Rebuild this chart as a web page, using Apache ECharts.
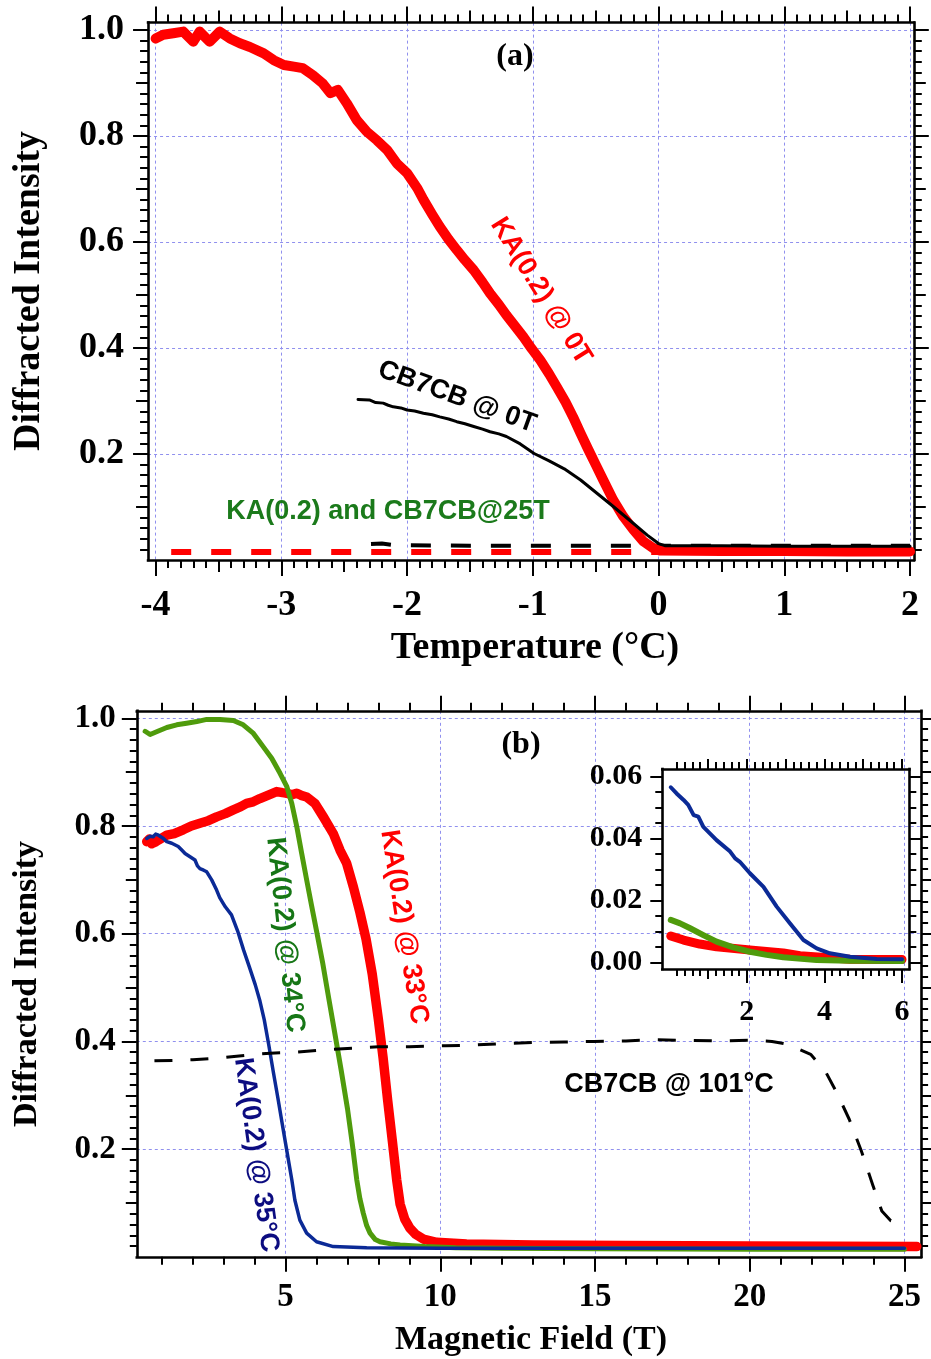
<!DOCTYPE html>
<html><head><meta charset="utf-8">
<script src="https://cdn.jsdelivr.net/npm/echarts@6/dist/echarts.min.js"></script>
<style>html,body{margin:0;padding:0;background:#fff}#c{width:931px;height:1359px}</style>
</head><body><div id="c"></div>
<script>
// ---------- Panel (a): Diffracted intensity vs temperature ----------
const kaZeroT = [[-4.00,0.984],[-3.94,0.991],[-3.86,0.994],[-3.78,0.997],[-3.70,0.978],[-3.65,0.997],[-3.57,0.978],[-3.49,0.997],[-3.41,0.984],[-3.33,0.975],[-3.25,0.968],[-3.14,0.956],[-3.06,0.943],[-2.98,0.934],[-2.90,0.931],[-2.83,0.928],[-2.75,0.915],[-2.67,0.899],[-2.61,0.881],[-2.55,0.887],[-2.48,0.862],[-2.40,0.830],[-2.32,0.808],[-2.24,0.792],[-2.16,0.774],[-2.08,0.748],[-2.00,0.730],[-1.92,0.702],[-1.87,0.680],[-1.80,0.652],[-1.74,0.629],[-1.67,0.605],[-1.605,0.585],[-1.54,0.566],[-1.47,0.547],[-1.40,0.524],[-1.34,0.503],[-1.27,0.482],[-1.21,0.462],[-1.14,0.441],[-1.075,0.421],[-1.01,0.399],[-0.94,0.377],[-0.87,0.351],[-0.81,0.327],[-0.74,0.298],[-0.68,0.270],[-0.62,0.239],[-0.56,0.209],[-0.50,0.180],[-0.44,0.151],[-0.36,0.113],[-0.28,0.082],[-0.20,0.057],[-0.12,0.035],[-0.04,0.022],[0.01,0.018],[0.5,0.017],[1.0,0.017],[1.5,0.016],[2.0,0.016]];
const cb7cbZeroT = [[-2.39,0.303],[-2.30,0.302],[-2.25,0.297],[-2.19,0.296],[-2.15,0.292],[-2.11,0.289],[-2.05,0.287],[-2.00,0.283],[-1.94,0.281],[-1.87,0.277],[-1.80,0.274],[-1.74,0.270],[-1.67,0.266],[-1.605,0.261],[-1.54,0.257],[-1.47,0.252],[-1.40,0.247],[-1.34,0.242],[-1.27,0.238],[-1.21,0.233],[-1.10,0.219],[-0.99,0.201],[-0.87,0.187],[-0.75,0.172],[-0.62,0.151],[-0.49,0.126],[-0.36,0.101],[-0.23,0.075],[-0.09,0.047],[0.0,0.031],[0.05,0.027],[0.5,0.027],[1.0,0.026],[1.5,0.026],[2.0,0.026]];
const ka25T = [[-3.876,0.015],[-2.0,0.015],[-1.0,0.015],[0,0.015],[1,0.015],[2,0.015]];
const cb7cb25T = [[-2.287,0.030],[-2.2,0.031],[-2.1,0.028],[-1.5,0.027],[-1.0,0.027],[0,0.027],[2,0.027]];
const tempTicks = [-4,-3,-2,-1,0,1,2];
const intensityTicks = [0.2,0.4,0.6,0.8,1.0];

// ---------- Panel (b): Diffracted intensity vs magnetic field ----------
const ka34C = [[0.46,0.976],[0.62,0.970],[0.83,0.975],[1.16,0.983],[1.48,0.988],[1.80,0.991],[2.13,0.994],[2.45,0.998],[2.88,0.998],[3.31,0.996],[3.63,0.988],[3.96,0.972],[4.28,0.947],[4.55,0.926],[4.82,0.898],[5.04,0.873],[5.20,0.842],[5.36,0.799],[5.52,0.749],[5.68,0.700],[5.84,0.652],[6.00,0.605],[6.20,0.545],[6.40,0.478],[6.60,0.412],[6.80,0.345],[7.00,0.275],[7.15,0.212],[7.30,0.143],[7.40,0.108],[7.51,0.081],[7.62,0.058],[7.73,0.044],[7.90,0.032],[8.05,0.028],[8.40,0.024],[8.70,0.022],[9.5,0.019],[10.5,0.017],[12,0.016],[15,0.015],[20,0.014],[25,0.014]];
const ka33C = [[0.51,0.771],[0.60,0.776],[0.67,0.767],[0.78,0.770],[0.89,0.774],[1.16,0.783],[1.40,0.786],[1.69,0.793],[1.95,0.800],[2.23,0.805],[2.50,0.810],[2.77,0.817],[3.05,0.823],[3.31,0.830],[3.55,0.836],[3.74,0.842],[3.95,0.845],[4.17,0.851],[4.50,0.859],[4.71,0.864],[4.90,0.862],[5.04,0.861],[5.20,0.858],[5.36,0.861],[5.50,0.857],[5.68,0.854],[5.95,0.842],[6.22,0.817],[6.54,0.786],[6.76,0.755],[6.97,0.731],[7.19,0.687],[7.40,0.640],[7.60,0.590],[7.80,0.525],[8.00,0.440],[8.15,0.370],[8.30,0.290],[8.45,0.215],[8.59,0.143],[8.70,0.098],[8.85,0.070],[9.02,0.053],[9.20,0.042],[9.45,0.033],[9.88,0.027],[10.85,0.024],[13,0.022],[16,0.021],[20,0.020],[25.4,0.019]];
const ka35C = [[0.51,0.777],[0.62,0.781],[0.72,0.780],[0.80,0.785],[0.89,0.783],[1.05,0.777],[1.16,0.771],[1.32,0.768],[1.53,0.762],[1.65,0.755],[1.75,0.749],[1.91,0.743],[2.07,0.737],[2.15,0.726],[2.23,0.721],[2.35,0.718],[2.45,0.715],[2.61,0.700],[2.77,0.681],[2.87,0.667],[3.05,0.650],[3.25,0.635],[3.45,0.605],[3.64,0.570],[3.83,0.538],[4.02,0.505],[4.17,0.475],[4.31,0.440],[4.46,0.392],[4.60,0.344],[4.75,0.295],[4.89,0.247],[5.03,0.200],[5.20,0.143],[5.30,0.105],[5.46,0.068],[5.68,0.044],[6.00,0.028],[6.54,0.019],[7.62,0.017],[10,0.016],[15,0.016],[20,0.016],[25,0.016]];
const cb7cb101C = [[0.76,0.364],[1.5,0.365],[2.0,0.366],[3.0,0.370],[4.0,0.376],[4.5,0.378],[5.37,0.380],[6.0,0.383],[7.0,0.387],[8.0,0.390],[9.0,0.390],[10.16,0.392],[11.0,0.393],[12.0,0.396],[13.0,0.398],[14.0,0.399],[14.96,0.400],[16.0,0.401],[16.88,0.403],[18.0,0.402],[19.0,0.401],[20.0,0.402],[20.72,0.400],[21.1,0.396],[21.49,0.388],[21.97,0.376],[22.45,0.344],[22.83,0.303],[23.22,0.255],[23.60,0.198],[23.98,0.133],[24.27,0.085],[24.56,0.067],[24.94,0.064]];
const fieldTicks = [5,10,15,20,25];

// ---------- Inset of panel (b) ----------
const inset35C = [[0.04,0.0566],[0.19,0.0546],[0.37,0.0525],[0.49,0.0509],[0.63,0.0476],[0.75,0.0471],[0.88,0.0438],[1.22,0.0395],[1.57,0.0358],[1.70,0.0336],[1.82,0.0325],[2.08,0.0288],[2.43,0.0244],[2.77,0.0180],[3.11,0.0126],[3.46,0.0072],[3.80,0.0045],[4.14,0.0029],[4.66,0.0018],[5.35,0.0011],[6.00,0.0010]];
const inset34C = [[0.04,0.0137],[0.28,0.0126],[0.54,0.0110],[0.88,0.0088],[1.22,0.0067],[1.65,0.0048],[2.08,0.0034],[2.51,0.0024],[2.94,0.0016],[3.80,0.0007],[4.66,0.0005],[6.00,0.0004]];
const inset33C = [[0.04,0.0085],[0.37,0.0072],[0.79,0.0059],[1.22,0.0050],[2.08,0.0040],[2.94,0.0030],[3.37,0.0021],[4.66,0.0010],[6.00,0.0009]];
const insetXTicks = [2,4,6];
const insetYTicks = [0,0.02,0.04,0.06];

// ---------- helpers (tick marks only) ----------
function steps(a, b, s) { const out = []; const n = Math.round((b - a) / s); for (let i = 0; i <= n; i++) out.push(+(a + i * s).toFixed(4)); return out; }
const SERIF = 'Liberation Serif';
function axisDef(o) {
  return {
    type: 'value', gridIndex: o.grid, position: o.pos, min: o.min, max: o.max, offset: 0,
    splitNumber: o.splitNumber || 5,
    axisLine: { show: !!o.line, onZero: false, lineStyle: { color: '#000', width: 2.6, cap: 'square' } },
    axisTick: { show: true, inside: false, customValues: o.ticks, length: o.len, lineStyle: { color: '#000', width: 2 } },
    minorTick: { show: false },
    axisLabel: o.labels ? { show: true, customValues: o.labels, margin: o.margin, formatter: o.fmt, color: '#000',
      fontFamily: SERIF, fontWeight: 'bold', fontSize: o.fs, hideOverlap: false } : { show: false },
    splitLine: o.split ? { show: true, lineStyle: { color: '#9090ee', width: 1, type: [3, 3] } } : { show: false },
    silent: true
  };
}
const xAxes = [], yAxes = [];
function add(list, o) { list.push(axisDef(o)); return list.length - 1; }

// Grid 0 : panel (a)
const ax = { grid: 0, min: -4.06, max: 2.03 };
const ay = { grid: 0, min: 0, max: 1.014 };
const xA = add(xAxes, { ...ax, pos: 'bottom', line: true, ticks: tempTicks, len: 16, labels: tempTicks, margin: 28, fs: 36, split: true, splitNumber: 6 });
add(xAxes, { ...ax, pos: 'bottom', ticks: steps(-4, 2, 0.5), len: 12 });
add(xAxes, { ...ax, pos: 'bottom', ticks: steps(-4, 2, 0.1), len: 8 });
add(xAxes, { ...ax, pos: 'top', line: true, ticks: tempTicks, len: 16 });
add(xAxes, { ...ax, pos: 'top', ticks: steps(-4, 2, 0.5), len: 12 });
add(xAxes, { ...ax, pos: 'top', ticks: steps(-4, 2, 0.1), len: 8 });
const yA = add(yAxes, { ...ay, pos: 'left', line: true, ticks: intensityTicks, len: 15, labels: intensityTicks, fmt: v => (+v).toFixed(1), margin: 24, fs: 36, split: true });
add(yAxes, { ...ay, pos: 'left', ticks: steps(0.1, 1, 0.1), len: 12 });
add(yAxes, { ...ay, pos: 'left', ticks: steps(0.02, 1, 0.02), len: 8 });
add(yAxes, { ...ay, pos: 'right', line: true, ticks: intensityTicks, len: 15 });
add(yAxes, { ...ay, pos: 'right', ticks: steps(0.1, 1, 0.1), len: 12 });
add(yAxes, { ...ay, pos: 'right', ticks: steps(0.02, 1, 0.02), len: 8 });

// Grid 1 : panel (b)
const bx = { grid: 1, min: 0.19, max: 25.54 };
const by = { grid: 1, min: 0, max: 1.014 };
const xB = add(xAxes, { ...bx, pos: 'bottom', line: true, ticks: fieldTicks, len: 15, labels: fieldTicks, margin: 24, fs: 33, split: true, splitNumber: 5 });
add(xAxes, { ...bx, pos: 'bottom', ticks: steps(1, 25, 1), len: 8 });
add(xAxes, { ...bx, pos: 'top', line: true, ticks: fieldTicks, len: 15 });
add(xAxes, { ...bx, pos: 'top', ticks: steps(1, 25, 1), len: 8 });
const yB = add(yAxes, { ...by, pos: 'left', line: true, ticks: intensityTicks, len: 15, labels: intensityTicks, fmt: v => (+v).toFixed(1), margin: 21, fs: 33, split: true });
add(yAxes, { ...by, pos: 'left', ticks: steps(0.1, 1, 0.1), len: 11 });
add(yAxes, { ...by, pos: 'left', ticks: steps(0.02, 1, 0.02), len: 7 });
add(yAxes, { ...by, pos: 'right', line: true, ticks: intensityTicks, len: 15 });
add(yAxes, { ...by, pos: 'right', ticks: steps(0.1, 1, 0.1), len: 11 });
add(yAxes, { ...by, pos: 'right', ticks: steps(0.02, 1, 0.02), len: 7 });

// Grid 2 : inset
const cx = { grid: 2, min: -0.178, max: 6.188 };
const cy = { grid: 2, min: -0.00217, max: 0.0625 };
const xC = add(xAxes, { ...cx, pos: 'bottom', line: true, ticks: insetXTicks, len: 14, labels: insetXTicks, margin: 28, fs: 30 });
add(xAxes, { ...cx, pos: 'bottom', ticks: steps(1, 6, 1), len: 10 });
add(xAxes, { ...cx, pos: 'bottom', ticks: steps(0.2, 6, 0.2), len: 7 });
add(xAxes, { ...cx, pos: 'top', line: true, ticks: steps(1, 6, 1), len: 10 });
add(xAxes, { ...cx, pos: 'top', ticks: steps(0.2, 6, 0.2), len: 7 });
const yC = add(yAxes, { ...cy, pos: 'left', line: true, ticks: insetYTicks, len: 12, labels: insetYTicks, fmt: v => (+v).toFixed(2), margin: 20, fs: 30 });
add(yAxes, { ...cy, pos: 'left', ticks: steps(0, 0.06, 0.005), len: 7 });
add(yAxes, { ...cy, pos: 'right', line: true, ticks: insetYTicks, len: 12 });
add(yAxes, { ...cy, pos: 'right', ticks: steps(0, 0.06, 0.005), len: 7 });

function line(data, xi, yi, color, width, dash, z) {
  return { type: 'line', xAxisIndex: xi, yAxisIndex: yi, data: data, showSymbol: false, symbol: 'none',
    silent: true, z: z || 2, lineStyle: { color: color, width: width, type: dash || 'solid', join: 'round', cap: dash ? 'butt' : 'round' } };
}
const RED = '#ff0000', BLK = '#000000', GRN = '#4f9b0c', BLU = '#0b2a96';
const series = [
  line(ka25T, xA, yA, RED, 6, [20, 20]),
  line(cb7cb25T, xA, yA, BLK, 4, [20, 20]),
  line(kaZeroT, xA, yA, RED, 10),
  line(cb7cbZeroT, xA, yA, BLK, 3),
  line(ka33C, xB, yB, RED, 9.5),
  line(ka34C, xB, yB, GRN, 5),
  line(ka35C, xB, yB, BLU, 3.5),
  line(cb7cb101C, xB, yB, BLK, 3, [18, 18]),
  line(inset33C, xC, yC, RED, 9),
  line(inset34C, xC, yC, GRN, 6),
  line(inset35C, xC, yC, BLU, 4)
];

function txt(text, x, y, font, fill, rotDeg) {
  return { type: 'text', x: x, y: y, rotation: (rotDeg || 0) * Math.PI / 180, silent: true, z: 20,
    style: { text: text, font: font, fill: fill, align: 'center', verticalAlign: 'middle' } };
}
const SANS = 'bold 27px "Liberation Sans", Arial, sans-serif';
const graphic = [
  txt('Diffracted Intensity', 29, 291, 'bold 38px "Liberation Serif"', '#000', 90),
  txt('Temperature (°C)', 535, 648, 'bold 38px "Liberation Serif"', '#000', 0),
  txt('(a)', 515, 57, 'bold 32px "Liberation Serif"', '#000', 0),
  txt('KA(0.2) @ 0T', 541, 291, SANS, RED, -58),
  txt('CB7CB @ 0T', 457, 397, SANS, '#000', -20),
  txt('KA(0.2) and CB7CB@25T', 388, 512, SANS, '#1b7a1b', 0),
  txt('Diffracted Intensity', 27, 984, 'bold 34px "Liberation Serif"', '#000', 90),
  txt('Magnetic Field (T)', 531, 1340, 'bold 34px "Liberation Serif"', '#000', 0),
  txt('(b)', 521, 745, 'bold 32px "Liberation Serif"', '#000', 0),
  txt('KA(0.2) @ 34°C', 285, 935, SANS, '#167616', -84),
  txt('KA(0.2) @ 33°C', 404, 927, SANS, RED, -81),
  txt('KA(0.2) @ 35°C', 256, 1155, SANS, '#0c0c80', -82),
  txt('CB7CB @ 101°C', 669, 1085, SANS, '#000', 0)
];

const chart = echarts.init(document.getElementById('c'), null, { renderer: 'canvas' });
chart.setOption({
  backgroundColor: '#ffffff',
  animation: false,
  grid: [
    { left: 148.06, top: 22.6, width: 765.74, height: 537.4, containLabel: false, outerBoundsMode: 'none' },
    { left: 136.8, top: 710.8, width: 784.3, height: 546.0, containLabel: false, outerBoundsMode: 'none' },
    { left: 662.3, top: 769, width: 247, height: 200, containLabel: false, outerBoundsMode: 'none' }
  ],
  xAxis: xAxes,
  yAxis: yAxes,
  series: series,
  graphic: graphic
});
</script>
</body></html>
